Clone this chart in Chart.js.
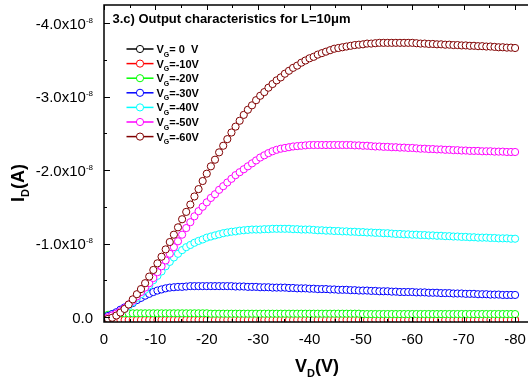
<!DOCTYPE html>
<html>
<head>
<meta charset="utf-8">
<script src="https://cdn.jsdelivr.net/npm/chart.js@4.4.1/dist/chart.umd.min.js"></script>
<style>
    html, body { margin: 0; padding: 0; background: #fff; overflow: hidden; }
    canvas { display: block; }
</style>
</head>
<body>
<canvas id="outputChart" width="528" height="382"></canvas>
<script>
// V_D sweep (V), 0.8 V steps
const drainVoltage = [0,-0.8,-1.6,-2.4,-3.2,-4,-4.8,-5.6,-6.4,-7.2,
    -8,-8.8,-9.6,-10.4,-11.2,-12,-12.8,-13.6,-14.4,-15.2,
    -16,-16.8,-17.6,-18.4,-19.2,-20,-20.8,-21.6,-22.4,-23.2,
    -24,-24.8,-25.6,-26.4,-27.2,-28,-28.8,-29.6,-30.4,-31.2,
    -32,-32.8,-33.6,-34.4,-35.2,-36,-36.8,-37.6,-38.4,-39.2,
    -40,-40.8,-41.6,-42.4,-43.2,-44,-44.8,-45.6,-46.4,-47.2,
    -48,-48.8,-49.6,-50.4,-51.2,-52,-52.8,-53.6,-54.4,-55.2,
    -56,-56.8,-57.6,-58.4,-59.2,-60,-60.8,-61.6,-62.4,-63.2,
    -64,-64.8,-65.6,-66.4,-67.2,-68,-68.8,-69.6,-70.4,-71.2,
    -72,-72.8,-73.6,-74.4,-75.2,-76,-76.8,-77.6,-78.4,-79.2,
    -80];

// I_D in units of 1e-8 A, one array per gate voltage
const idVg0 = [0.04,0.04,0.04,0.04,0.04,0.04,0.04,0.04,0.04,0.04,
    0.04,0.04,0.04,0.04,0.04,0.04,0.04,0.04,0.04,0.04,
    0.04,0.04,0.04,0.04,0.04,0.04,0.04,0.04,0.04,0.04,
    0.04,0.04,0.04,0.04,0.04,0.04,0.04,0.04,0.04,0.04,
    0.04,0.04,0.04,0.04,0.04,0.04,0.04,0.04,0.04,0.04,
    0.04,0.04,0.04,0.04,0.04,0.04,0.04,0.04,0.04,0.04,
    0.04,0.04,0.04,0.04,0.04,0.04,0.04,0.04,0.04,0.04,
    0.04,0.04,0.04,0.04,0.04,0.04,0.04,0.04,0.04,0.04,
    0.04,0.04,0.04,0.04,0.04,0.04,0.04,0.04,0.04,0.04,
    0.04,0.04,0.04,0.04,0.04,0.04,0.04,0.04,0.04,0.04,
    0.04];
const idVg10 = [0.04,0.04,0.04,0.04,0.04,0.04,0.04,0.04,0.04,0.04,
    0.04,0.04,0.04,0.04,0.04,0.04,0.04,0.04,0.04,0.04,
    0.04,0.04,0.04,0.04,0.04,0.04,0.04,0.04,0.04,0.04,
    0.04,0.04,0.04,0.04,0.04,0.04,0.04,0.04,0.04,0.04,
    0.04,0.04,0.04,0.04,0.04,0.04,0.04,0.04,0.04,0.04,
    0.04,0.04,0.04,0.04,0.04,0.04,0.04,0.04,0.04,0.04,
    0.04,0.04,0.04,0.04,0.04,0.04,0.04,0.04,0.04,0.04,
    0.04,0.04,0.04,0.04,0.04,0.04,0.04,0.04,0.04,0.04,
    0.04,0.04,0.04,0.04,0.04,0.04,0.04,0.04,0.04,0.04,
    0.04,0.04,0.04,0.04,0.04,0.04,0.04,0.04,0.04,0.04,
    0.04];
const idVg20 = [-0.02,-0.03,-0.04,-0.045,-0.05,-0.05,-0.05,-0.05,-0.05,-0.05,
    -0.05,-0.05,-0.05,-0.05,-0.05,-0.05,-0.05,-0.05,-0.05,-0.05,
    -0.05,-0.05,-0.05,-0.05,-0.05,-0.05,-0.045,-0.045,-0.045,-0.045,
    -0.045,-0.045,-0.045,-0.045,-0.045,-0.045,-0.045,-0.045,-0.045,-0.045,
    -0.045,-0.045,-0.045,-0.045,-0.045,-0.045,-0.045,-0.045,-0.045,-0.045,
    -0.045,-0.045,-0.045,-0.045,-0.045,-0.045,-0.045,-0.045,-0.045,-0.045,
    -0.045,-0.045,-0.045,-0.04,-0.04,-0.04,-0.04,-0.04,-0.04,-0.04,
    -0.04,-0.04,-0.04,-0.04,-0.04,-0.04,-0.04,-0.04,-0.04,-0.04,
    -0.04,-0.04,-0.04,-0.04,-0.04,-0.04,-0.04,-0.04,-0.04,-0.04,
    -0.04,-0.04,-0.04,-0.04,-0.04,-0.04,-0.04,-0.04,-0.04,-0.04,
    -0.04];
const idVg30 = [0.01,-0.015,-0.04,-0.065,-0.10,-0.13,-0.16,-0.19,-0.23,-0.26,
    -0.29,-0.315,-0.34,-0.36,-0.375,-0.39,-0.40,-0.405,-0.41,-0.41,
    -0.415,-0.42,-0.42,-0.42,-0.42,-0.42,-0.42,-0.42,-0.42,-0.42,
    -0.42,-0.42,-0.415,-0.415,-0.415,-0.41,-0.41,-0.41,-0.405,-0.405,
    -0.405,-0.40,-0.40,-0.40,-0.40,-0.395,-0.395,-0.39,-0.39,-0.39,
    -0.385,-0.385,-0.38,-0.38,-0.38,-0.375,-0.375,-0.37,-0.37,-0.37,
    -0.365,-0.365,-0.36,-0.36,-0.36,-0.355,-0.355,-0.35,-0.35,-0.35,
    -0.345,-0.345,-0.34,-0.34,-0.34,-0.34,-0.335,-0.335,-0.335,-0.33,
    -0.33,-0.33,-0.325,-0.325,-0.325,-0.32,-0.32,-0.32,-0.315,-0.315,
    -0.315,-0.31,-0.31,-0.31,-0.305,-0.305,-0.305,-0.30,-0.30,-0.30,
    -0.30];
const idVg40 = [0.03,0.015,-0.01,-0.035,-0.07,-0.11,-0.15,-0.20,-0.26,-0.31,
    -0.37,-0.43,-0.50,-0.56,-0.62,-0.69,-0.75,-0.81,-0.86,-0.91,
    -0.95,-0.98,-1.01,-1.035,-1.055,-1.08,-1.095,-1.11,-1.125,-1.14,
    -1.15,-1.16,-1.165,-1.175,-1.18,-1.185,-1.19,-1.19,-1.19,-1.195,
    -1.195,-1.20,-1.20,-1.20,-1.20,-1.20,-1.195,-1.195,-1.19,-1.19,
    -1.19,-1.185,-1.18,-1.18,-1.175,-1.175,-1.17,-1.17,-1.165,-1.165,
    -1.16,-1.16,-1.155,-1.155,-1.15,-1.15,-1.145,-1.145,-1.14,-1.14,
    -1.135,-1.13,-1.13,-1.125,-1.125,-1.12,-1.12,-1.115,-1.115,-1.11,
    -1.11,-1.105,-1.105,-1.10,-1.10,-1.095,-1.095,-1.09,-1.09,-1.085,
    -1.085,-1.08,-1.08,-1.08,-1.075,-1.075,-1.07,-1.07,-1.07,-1.065,
    -1.065];
const idVg50 = [0.02,0.005,-0.02,-0.045,-0.08,-0.12,-0.17,-0.22,-0.28,-0.34,
    -0.40,-0.46,-0.53,-0.61,-0.69,-0.77,-0.86,-0.95,-1.03,-1.12,
    -1.21,-1.29,-1.37,-1.44,-1.50,-1.56,-1.62,-1.67,-1.73,-1.78,
    -1.83,-1.88,-1.93,-1.97,-2.01,-2.05,-2.09,-2.13,-2.17,-2.20,
    -2.23,-2.255,-2.275,-2.29,-2.30,-2.31,-2.32,-2.325,-2.33,-2.335,
    -2.34,-2.34,-2.34,-2.34,-2.34,-2.34,-2.34,-2.34,-2.34,-2.34,
    -2.34,-2.335,-2.335,-2.33,-2.33,-2.325,-2.32,-2.32,-2.315,-2.315,
    -2.31,-2.31,-2.305,-2.305,-2.30,-2.30,-2.295,-2.29,-2.29,-2.285,
    -2.285,-2.28,-2.28,-2.275,-2.275,-2.27,-2.27,-2.265,-2.265,-2.26,
    -2.26,-2.26,-2.255,-2.255,-2.255,-2.25,-2.25,-2.25,-2.245,-2.245,
    -2.245];
const idVg60 = [0.04,0.025,0.01,-0.02,-0.06,-0.11,-0.17,-0.24,-0.31,-0.38,
    -0.46,-0.55,-0.64,-0.73,-0.82,-0.92,-1.02,-1.12,-1.22,-1.33,
    -1.43,-1.53,-1.64,-1.74,-1.85,-1.95,-2.05,-2.14,-2.24,-2.33,
    -2.42,-2.51,-2.59,-2.67,-2.75,-2.82,-2.88,-2.95,-3.01,-3.06,
    -3.12,-3.17,-3.22,-3.26,-3.31,-3.35,-3.39,-3.42,-3.46,-3.49,
    -3.52,-3.54,-3.57,-3.59,-3.61,-3.63,-3.65,-3.66,-3.67,-3.68,
    -3.69,-3.70,-3.705,-3.71,-3.72,-3.72,-3.725,-3.73,-3.73,-3.73,
    -3.73,-3.73,-3.73,-3.73,-3.73,-3.73,-3.725,-3.72,-3.72,-3.715,
    -3.715,-3.71,-3.71,-3.705,-3.705,-3.70,-3.70,-3.695,-3.695,-3.69,
    -3.69,-3.685,-3.685,-3.68,-3.68,-3.675,-3.67,-3.67,-3.665,-3.665,
    -3.66];

const seriesValues = [idVg0, idVg10, idVg20, idVg30, idVg40, idVg50, idVg60];
const legendLabels = ['= 0  V', '=-10V', '=-20V', '=-30V', '=-40V', '=-50V', '=-60V'];
const seriesColors = ['#000000', '#ff0000', '#00ff00', '#0000ff', '#00ffff', '#ff00ff', '#800000'];

const xMajorTicks = [0, -10, -20, -30, -40, -50, -60, -70, -80];
const xMinorTicks = [-5, -15, -25, -35, -45, -55, -65, -75];
const yMajorTicks = [0, -1, -2, -3, -4];
const yMinorTicks = [-0.5, -1.5, -2.5, -3.5];

const chartTitle = '3.c) Output characteristics for L=10\u03bcm';
const FONT = '"Liberation Sans", Arial, sans-serif';

// frame, inward ticks, tick labels, titles and legend
const decorations = {
    id: 'decorations',
    afterDatasetsDraw(chart) {
        const { ctx, chartArea: a, scales: { x, y } } = chart;
        ctx.save();
        ctx.strokeStyle = '#000';
        ctx.lineWidth = 1.5;
        ctx.beginPath();
        ctx.moveTo(a.right + 10, a.top);
        ctx.lineTo(a.left, a.top);
        ctx.lineTo(a.left, a.bottom);
        ctx.lineTo(a.right + 10, a.bottom);
        ctx.stroke();

        ctx.lineWidth = 1;
        ctx.beginPath();
        xMajorTicks.concat(xMinorTicks).forEach(v => {
            const len = xMajorTicks.includes(v) ? 5 : 3;
            const px = Math.round(x.getPixelForValue(v)) + 0.5;
            ctx.moveTo(px, a.bottom); ctx.lineTo(px, a.bottom - len);
            ctx.moveTo(px, a.top); ctx.lineTo(px, a.top + len);
        });
        yMajorTicks.concat(yMinorTicks).forEach(v => {
            const len = yMajorTicks.includes(v) ? 6 : 3;
            const py = Math.round(y.getPixelForValue(v)) + 0.5;
            ctx.moveTo(a.left, py); ctx.lineTo(a.left + len, py);
        });
        ctx.stroke();

        ctx.fillStyle = '#000';
        // x tick labels
        ctx.font = '15px ' + FONT;
        ctx.textAlign = 'center';
        ctx.textBaseline = 'alphabetic';
        xMajorTicks.forEach(v => {
            ctx.fillText(String(v), x.getPixelForValue(v), 344);
        });

        // y tick labels with x10^-8 exponent
        const labelRight = 93;
        yMajorTicks.forEach(v => {
            const py = y.getPixelForValue(v);
            if (v === 0) {
                ctx.font = '15px ' + FONT;
                ctx.textAlign = 'right';
                ctx.fillText('0.0', labelRight, py + 5.5);
                return;
            }
            ctx.font = '8px ' + FONT;
            const supW = ctx.measureText('-8').width;
            ctx.textAlign = 'left';
            ctx.fillText('-8', labelRight - supW, py - 0.5);
            ctx.font = '15px ' + FONT;
            ctx.textAlign = 'right';
            ctx.fillText(v.toFixed(1) + 'x10', labelRight - supW, py + 5.5);
        });

        // title inside the plot
        ctx.font = 'bold 13px ' + FONT;
        ctx.textAlign = 'left';
        ctx.fillText(chartTitle, 112.5, 22.5);

        // x axis title V_D(V)
        drawSubscripted(ctx, 'V', 'D', '(V)', 317, 371.5, 18, 11, 5, 'center');

        // y axis title I_D(A), rotated
        ctx.save();
        ctx.translate(23.5, 183);
        ctx.rotate(-Math.PI / 2);
        drawSubscripted(ctx, 'I', 'D', '(A)', 0, 0, 18, 11, 5, 'center');
        ctx.restore();

        // legend
        seriesColors.forEach((color, i) => {
            const ly = 49 + i * 14.6;
            ctx.strokeStyle = color;
            ctx.lineWidth = 1.5;
            ctx.beginPath();
            ctx.moveTo(126.5, ly); ctx.lineTo(153.5, ly);
            ctx.stroke();
            ctx.lineWidth = 1;
            ctx.fillStyle = '#fff';
            ctx.beginPath();
            ctx.arc(140, ly, 3.6, 0, Math.PI * 2);
            ctx.fill(); ctx.stroke();
            ctx.fillStyle = '#000';
            drawSubscripted(ctx, 'V', 'G', legendLabels[i], 156.5, ly + 4, 11, 7, 3.5, 'left');
        });
        ctx.restore();
    }
};

function drawSubscripted(ctx, main, sub, rest, cx, baseline, size, subSize, drop, align) {
    ctx.textAlign = 'left';
    ctx.font = 'bold ' + size + 'px ' + FONT;
    const w1 = ctx.measureText(main).width;
    const w3 = ctx.measureText(rest).width;
    ctx.font = 'bold ' + subSize + 'px ' + FONT;
    const w2 = ctx.measureText(sub).width;
    let left = align === 'center' ? cx - (w1 + w2 + w3) / 2 : cx;
    ctx.font = 'bold ' + size + 'px ' + FONT;
    ctx.fillText(main, left, baseline);
    ctx.font = 'bold ' + subSize + 'px ' + FONT;
    ctx.fillText(sub, left + w1, baseline + drop);
    ctx.font = 'bold ' + size + 'px ' + FONT;
    ctx.fillText(rest, left + w1 + w2, baseline);
}

const datasets = seriesValues.map((values, i) => ({
    label: 'VG' + legendLabels[i],
    data: values.map((v, k) => ({ x: drainVoltage[k], y: v })),
    borderColor: seriesColors[i],
    borderWidth: 1,
    pointRadius: 3.6,
    pointBorderWidth: 1,
    pointBorderColor: seriesColors[i],
    pointBackgroundColor: '#ffffff',
    fill: false,
    tension: 0,
    order: seriesValues.length - 1 - i
}));

new Chart(document.getElementById('outputChart').getContext('2d'), {
    type: 'line',
    data: { datasets: datasets },
    options: {
        responsive: false,
        animation: false,
        layout: { padding: { left: 104, top: 5, right: 0, bottom: 60 } },
        plugins: {
            legend: { display: false },
            tooltip: { enabled: false }
        },
        scales: {
            x: {
                type: 'linear',
                reverse: true,
                min: -81.54,
                max: 0,
                display: false
            },
            y: {
                type: 'linear',
                reverse: true,
                min: -4.245,
                max: 0.068,
                display: false
            }
        }
    },
    plugins: [decorations]
});
</script>
</body>
</html>
